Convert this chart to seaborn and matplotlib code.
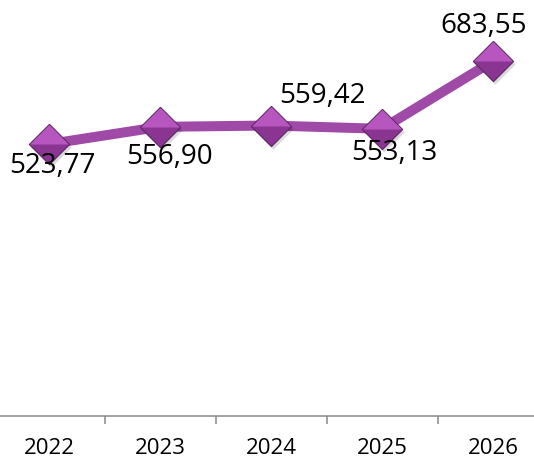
import matplotlib
matplotlib.use("Agg")
import matplotlib.pyplot as plt
import seaborn as sns
import pandas as pd
from matplotlib.ticker import FixedLocator

years = ["2022", "2023", "2024", "2025", "2026"]
values = [523.77, 556.90, 559.42, 553.13, 683.55]
value_labels = ["523,77", "556,90", "559,42", "553,13", "683,55"]

# label offsets in pixels (dx, dy downward positive)
label_offsets = [(3, 22), (10, 30), (51, -30), (12, 24), (-9, -35)]

df = pd.DataFrame({"year": years, "value": values})

sns.set_theme(style="white")
plt.rcParams["font.family"] = ["Open Sans", "DejaVu Sans"]

W, H = 534, 459
fig = plt.figure(figsize=(W / 100, H / 100), dpi=100)
left_px, right_px = -6.5, 548.5
ax = fig.add_axes([left_px / W, 43 / H, (right_px - left_px) / W, 415.4 / H])

line_color = "#A04AA8"
sns.lineplot(data=df, x="year", y="value", ax=ax, color=line_color,
             linewidth=7.2, sort=False, zorder=2)

diamond = [(0, 1), (1, 0), (0, -1), (-1, 0), (0, 1)]
top_half = [(-1, 0), (0, 1), (1, 0), (-1, 0)]
# shadow
ax.plot(range(len(years)), values, linestyle="none", marker=diamond,
        markersize=29, markerfacecolor="#000000", markeredgewidth=0, alpha=0.15,
        zorder=3, transform=ax.transData + matplotlib.transforms.ScaledTranslation(2/100, -3/100, fig.dpi_scale_trans))
sns.lineplot(data=df, x="year", y="value", ax=ax, linestyle="none", marker=diamond,
             markersize=29, markerfacecolor="#8A3592", markeredgecolor="#5E2564",
             markeredgewidth=0.8, sort=False, zorder=4)
sns.lineplot(data=df, x="year", y="value", ax=ax, linestyle="none", marker=top_half,
             markersize=28, markerfacecolor="#B856C0", markeredgewidth=0,
             sort=False, zorder=5)

for i, (v, lab) in enumerate(zip(values, value_labels)):
    dx, dy = label_offsets[i]
    ax.annotate(lab, (i, v), xytext=(dx * 0.72, -dy * 0.72), textcoords="offset points",
                ha="center", va="center", fontsize=20, color="#000000", zorder=6,
                annotation_clip=False)

ax.set_xlim(-0.5, len(years) - 0.5)
ax.set_ylim(0, 800)
ax.set_xlabel("")
ax.set_ylabel("")
ax.set_yticks([])
for s in ["top", "right", "left"]:
    ax.spines[s].set_visible(False)
ax.spines["bottom"].set_color("#888888")
ax.spines["bottom"].set_linewidth(1.1)

ax.xaxis.set_minor_locator(FixedLocator([i + 0.5 for i in range(len(years) - 1)]))
ax.tick_params(axis="x", which="major", length=0, pad=15.5, labelsize=16, labelcolor="#000000")
ax.tick_params(axis="x", which="minor", length=6, width=1.1, color="#888888", direction="out", bottom=True)

fig.savefig("out.png", dpi=100)
